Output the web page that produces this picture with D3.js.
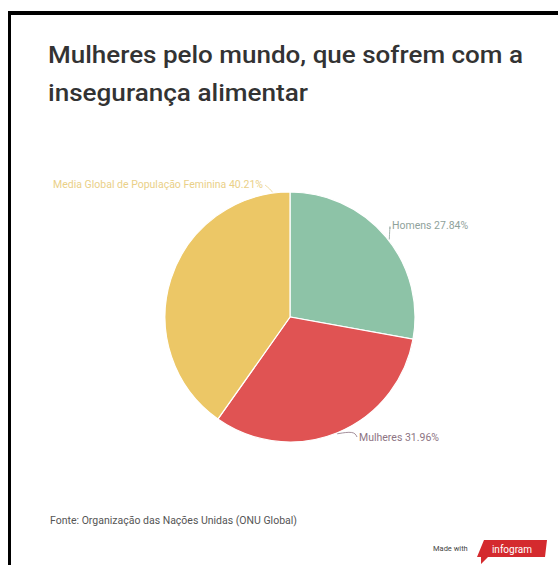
<!DOCTYPE html>
<html><head><meta charset="utf-8">
<script src="https://cdn.jsdelivr.net/npm/d3@7"></script>
<style>body{margin:0;background:#fff}svg{display:block}</style>
</head><body>
<script>
const categories = ["Homens", "Mulheres", "Media Global de População Feminina"];
const values = [27.84, 31.96, 40.21];
const colors = ["#8dc3a7", "#e05353", "#ecc766"];
const labelColors = ["#8fa29b", "#8d7483", "#ead088"];
const title = ["Mulheres pelo mundo, que sofrem com a", "insegurança alimentar"];
const source = "Fonte: Organização das Nações Unidas (ONU Global)";

const W = 558, H = 565;
const svg = d3.select("body").append("svg").attr("width", W).attr("height", H);
svg.append("rect").attr("width", W).attr("height", H).attr("fill", "#fff");
// frame lines
svg.append("rect").attr("x", 8).attr("y", 11).attr("width", W - 8).attr("height", 4).attr("fill", "#000");
svg.append("rect").attr("x", 8).attr("y", 11).attr("width", 3).attr("height", H - 11).attr("fill", "#000");

const titleLen = [475, 260];
svg.selectAll("text.title").data(title).join("text")
  .attr("x", 48).attr("y", (d, i) => 63 + i * 38)
  .attr("font-family", "Roboto, sans-serif").attr("font-weight", 500)
  .attr("font-size", 23).attr("fill", "#333")
  .attr("textLength", (d, i) => titleLen[i]).attr("lengthAdjust", "spacingAndGlyphs")
  .text(d => d);

const cx = 290, cy = 317, r = 125;
const pie = d3.pie().sort(null).value(d => d)(values);
const arc = d3.arc().innerRadius(0).outerRadius(r);
const g = svg.append("g").attr("transform", `translate(${cx},${cy})`);
g.selectAll("path").data(pie).join("path")
  .attr("d", arc).attr("fill", (d, i) => colors[i])
  .attr("stroke", "#fff").attr("stroke-width", 1.2);

// labels with leader lines (anchor angle on the pie edge, in degrees)
const labels = [
  {x: 392, y: 229, anchor: "start", ang: 52, pts: [[390, 224], [390, 229]]},
  {x: 359, y: 441, anchor: "start", ang: 158, pts: [[354, 431], [357, 437]]},
  {x: 263, y: 188, anchor: "end", ang: 352, pts: [[270, 189], [265, 185]]}
];
pie.forEach((d, i) => {
  const p = labels[i];
  const a = p.ang * Math.PI / 180;
  const ex = cx + Math.sin(a) * (r + 1), ey = cy - Math.cos(a) * (r + 1);
  svg.append("path")
    .attr("d", d3.line().curve(d3.curveBasis)([[ex, ey], ...p.pts]))
    .attr("fill", "none").attr("stroke", labelColors[i]).attr("stroke-width", 0.8);
  svg.append("text").attr("x", p.x).attr("y", p.y).attr("text-anchor", p.anchor)
    .attr("font-family", "Roboto, sans-serif").attr("font-size", 10.5)
    .attr("fill", labelColors[i])
    .text(`${categories[i]} ${values[i].toFixed(2)}%`);
});

svg.append("text").attr("x", 50).attr("y", 524)
  .attr("font-family", "Roboto, sans-serif").attr("font-size", 10.5)
  .attr("fill", "#555").text(source);

svg.append("text").attr("x", 433).attr("y", 551)
  .attr("font-family", "Roboto, sans-serif").attr("font-size", 7.5)
  .attr("fill", "#444").text("Made with");
svg.append("path").attr("d", "M484,540 L547,540 L545,557 L488,557 L481,564 L481,557 L477,557 Z")
  .attr("fill", "#d42a2e");
svg.append("text").attr("x", 512).attr("y", 552.5).attr("text-anchor", "middle")
  .attr("font-family", "Roboto, sans-serif").attr("font-size", 10)
  .attr("fill", "#fff").text("infogram");
</script>
</body></html>
